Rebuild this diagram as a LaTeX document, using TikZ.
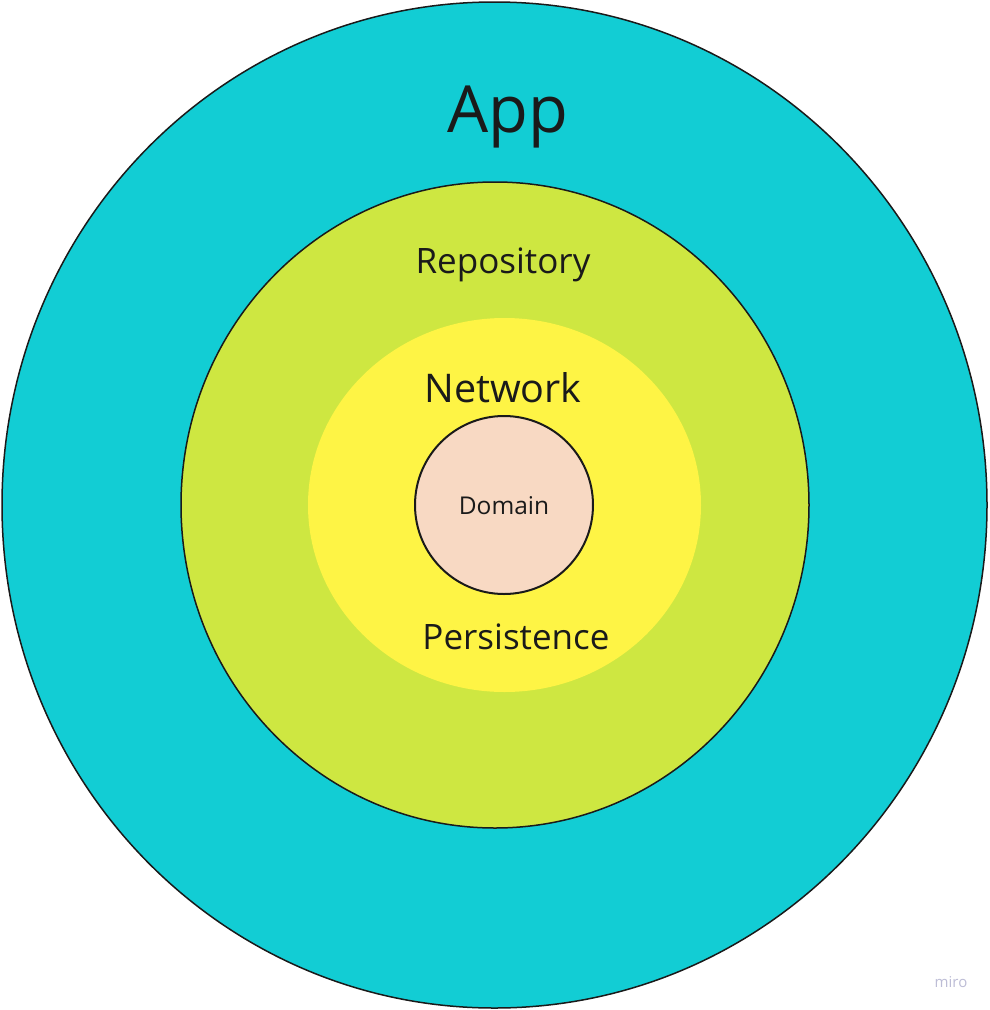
\documentclass[tikz,border=0pt]{standalone}
\usepackage{fontspec}
\setmainfont{Open Sans}
\definecolor{appc}{HTML}{12CDD4}
\definecolor{repoc}{HTML}{CEE741}
\definecolor{netc}{HTML}{FEF445}
\definecolor{domc}{HTML}{F8D9C3}
\definecolor{inkc}{HTML}{1A1A1A}
\definecolor{miroc}{HTML}{BDBDD6}
\tikzset{
  ring/.style={draw=inkc, line width=1.5pt},
  lbl/.style={text=inkc, inner sep=0pt, anchor=center}
}
\begin{document}
\begin{tikzpicture}[x=1pt,y=-1pt]
\useasboundingbox (0,0) rectangle (989,1010);
\fill[white] (0,0) rectangle (989,1010);
\draw[ring, fill=appc] (494.5,505) ellipse [x radius=492.5, y radius=503];
\draw[ring, fill=repoc] (495,505) ellipse [x radius=314, y radius=323];
\fill[netc] (504.5,505) ellipse [x radius=196.5, y radius=187];
\draw[ring, line width=2pt, fill=domc] (504,505) circle [radius=89];
\node[lbl, font=\fontsize{65}{72}\selectfont] (app) at (508,117) {App};
\node[lbl, font=\fontsize{35}{40}\selectfont] (repo) at (503,265) {Repository};
\node[lbl, font=\fontsize{39.5}{44}\selectfont] (net) at (503,388) {Network};
\node[lbl, font=\fontsize{35}{40}\selectfont] (pers) at (516,637) {Persistence};
\node[lbl, font=\fontsize{24.5}{28}\selectfont] (dom) at (504,506) {Domain};
\node[lbl, text=miroc, font=\fontsize{15}{17}\selectfont] (miro) at (951,982) {miro};
\end{tikzpicture}
\end{document}
